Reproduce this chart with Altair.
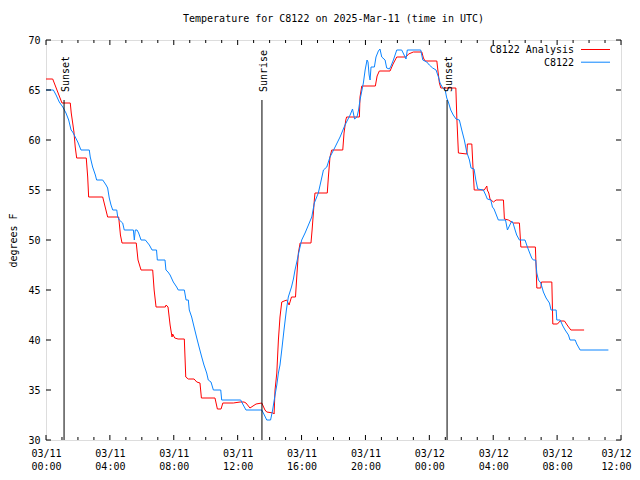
import altair as alt
import pandas as pd

TITLE = "Temperature for C8122 on 2025-Mar-11 (time in UTC)"
FONT = "DejaVu Sans Mono"

# hours since 03/11 00:00 UTC, temperature in degrees F
red_hours = [0.00, 0.42, 1.00, 1.52, 1.58, 1.67, 1.75, 1.83, 1.92, 2.52, 2.61, 2.67, 3.55, 3.86, 4.55,
             4.66, 4.76, 5.65, 5.76, 5.95, 6.68, 6.77, 6.89, 7.47, 7.52, 7.64, 7.77, 7.89, 7.93, 8.06,
             8.27, 8.66, 8.75, 8.91, 9.27, 9.44, 9.64, 9.73, 10.58, 10.73, 10.96, 11.07, 11.73, 12.15,
             12.40, 12.52, 12.67, 12.77, 13.15, 13.51, 13.71, 13.82, 14.23, 14.28, 14.34, 14.45, 14.55,
             14.65, 14.76, 15.07, 15.22, 15.37, 15.62, 15.70, 15.80, 15.91, 16.59, 16.66, 16.74, 16.80,
             16.84, 17.61, 17.68, 17.78, 17.89, 18.58, 18.66, 18.77, 18.82, 19.62, 19.66, 19.77, 20.62,
             20.73, 20.87, 21.54, 21.73, 21.96, 22.54, 22.70, 23.00, 23.53, 23.63, 23.73, 24.47, 24.54,
             24.63, 24.72, 25.66, 25.72, 25.82, 26.35, 26.38, 26.66, 26.72, 26.81, 27.44, 27.60, 27.63,
             27.72, 27.80, 28.01, 28.18, 28.64, 28.70, 28.95, 29.26, 29.64, 29.73, 30.64, 30.73, 30.98,
             31.02, 31.67, 31.73, 32.02, 32.19, 32.46, 32.67, 32.86, 33.69]
red_temps = [66.1, 66.1, 63.7, 63.7, 62.7, 61.7, 60.8, 59.3, 58.2, 58.2, 56.3, 54.3, 54.3, 52.3, 52.3,
             50.5, 49.7, 49.7, 48.0, 47.0, 47.0, 45.0, 43.3, 43.3, 43.5, 43.3, 41.5, 40.3, 40.6, 40.2,
             40.1, 40.1, 36.3, 36.1, 36.1, 35.8, 35.7, 34.2, 34.2, 33.1, 33.1, 33.7, 33.7, 33.8,
             33.8, 33.7, 33.4, 33.2, 33.6, 33.7, 33.0, 32.8, 32.7, 32.6, 35.0, 36.7, 40.0,
             42.3, 43.8, 44.0, 43.5, 44.3, 44.3, 46.3, 48.7, 49.7, 49.7, 51.0, 52.7, 54.0,
             54.7, 54.7, 56.3, 58.3, 59.0, 59.0, 60.7, 62.0, 62.3, 62.3, 64.3, 65.4, 65.4,
             66.4, 66.9, 66.9, 67.6, 68.3, 68.3, 68.6, 68.8, 68.8, 68.2, 67.9, 67.9, 66.9,
             65.7, 65.2, 65.2, 62.3, 58.7, 58.6, 59.6, 59.6, 57.7, 55.0, 55.0, 55.4, 55.0,
             54.7, 54.1, 53.8, 54.0, 54.0, 52.1, 52.0, 51.7, 51.7, 49.3, 49.3, 45.2, 45.2,
             45.8, 45.8, 41.6, 41.6, 41.9, 41.9, 41.4, 41.0, 41.0]

blue_hours = [0.00, 0.46, 0.63, 0.83, 1.05, 1.25, 1.42, 1.57, 1.67, 1.83, 1.99, 2.19, 2.71, 2.77, 2.92,
              3.09, 3.17, 3.55, 3.76, 3.86, 3.96, 4.07, 4.18, 4.43, 4.49, 4.59, 4.80, 4.90, 5.47, 5.53,
              5.59, 5.70, 5.80, 5.95, 6.22, 6.47, 6.64, 6.92, 6.97, 7.45, 7.51, 7.64, 7.77, 7.97, 8.18,
              8.28, 8.66, 8.77, 8.91, 8.97, 9.12, 9.27, 9.44, 9.60, 9.75, 9.89, 10.06, 10.16, 10.33,
              10.48, 10.94, 11.00, 12.19, 12.35, 12.52, 13.51, 13.67, 13.82, 14.06, 14.19, 14.34, 14.45,
              14.55, 14.65, 14.76, 14.90, 15.05, 15.17, 15.37, 15.49, 15.59, 15.73, 15.86, 16.01, 16.22,
              16.43, 16.64, 16.80, 16.95, 17.05, 17.26, 17.37, 17.58, 17.78, 18.10, 18.41, 18.72, 19.04,
              19.19, 19.32, 19.47, 19.57, 19.66, 19.87, 19.98, 20.10, 20.16, 20.23, 20.29, 20.35, 20.56,
              20.66, 20.81, 20.91, 21.02, 21.23, 21.33, 21.50, 21.60, 21.75, 21.96, 22.27, 22.42, 22.54,
              22.62, 23.46, 23.59, 23.84, 24.00, 24.21, 24.42, 24.57, 24.67, 24.84, 24.99, 25.09, 25.19,
              25.34, 25.50, 25.67, 25.88, 26.03, 26.19, 26.34, 26.51, 26.61, 26.80, 26.91, 27.03, 27.38,
              27.53, 27.63, 27.85, 27.95, 28.05, 28.32, 28.77, 28.89, 29.01, 29.16, 29.24, 29.37, 29.47,
              29.64, 29.99, 30.14, 30.26, 30.41, 30.51, 30.66, 30.73, 30.83, 30.98, 31.14, 31.31, 31.52,
              31.62, 31.94, 31.98, 32.19, 32.36, 32.50, 32.71, 32.81, 33.13, 33.23, 33.44, 35.21]
blue_temps = [65.0, 65.0, 64.5, 63.8, 63.3, 62.7, 62.0, 61.0, 60.8, 60.3, 59.8, 59.0, 59.0, 58.3, 57.3,
              56.5, 56.0, 56.0, 55.5, 55.2, 54.2, 53.5, 53.0, 53.0, 52.3, 52.0, 51.7, 51.0, 51.0, 50.0,
              51.0, 51.0, 50.7, 50.0, 50.0, 49.5, 49.0, 49.0, 48.0, 48.0, 47.0, 46.8, 46.5, 45.8, 45.3,
              45.0, 45.0, 44.0, 44.0, 43.0, 42.3, 41.3, 40.2, 39.2, 38.3, 37.5, 36.7, 36.0, 35.8,
              35.0, 35.0, 34.0, 34.0, 33.5, 33.0, 33.0, 32.5, 32.0, 32.0, 33.0, 34.5, 35.5,
              36.7, 37.5, 39.0, 41.0, 43.0, 44.3, 45.3, 46.1, 47.0, 48.0, 49.0, 50.0, 50.7,
              51.5, 52.3, 53.7, 54.3, 54.7, 56.2, 57.0, 57.3, 58.3, 59.3, 60.3, 61.5, 62.5,
              63.1, 62.1, 62.3, 63.0, 64.0, 65.7, 67.0, 68.0, 67.8, 66.5, 66.0, 67.3, 67.3,
              68.3, 68.9, 69.1, 68.3, 68.0, 67.2, 67.1, 67.4, 68.0, 69.0, 69.0, 68.5, 68.1,
              69.0, 69.0, 68.0, 67.8, 67.5, 67.2, 67.0, 66.3, 65.7, 65.2, 65.0, 64.2, 63.8,
              63.0, 62.5, 62.1, 62.0, 61.0, 60.0, 58.8, 58.0, 57.2, 57.1, 56.0, 55.1, 55.0,
              54.5, 54.1, 54.0, 53.3, 53.1, 52.0, 52.0, 51.0, 51.4, 51.9, 51.7, 51.0, 50.5,
              50.0, 50.0, 49.3, 48.8, 48.2, 48.0, 48.0, 46.7, 46.0, 45.7, 44.8, 44.2, 43.7,
              43.0, 43.0, 42.0, 42.0, 41.4, 41.0, 40.5, 40.0, 40.0, 39.6, 39.0, 39.0]

series_names = ["C8122 Analysis", "C8122"]
series_colors = ["#ff0000", "#0a84ff"]

event_names = ["Sunset", "Sunrise", "Sunset"]
event_hours = [1.13, 13.52, 25.11]
event_top = 64
y_min, y_max = 30, 70

major_hours = list(range(0, 37, 4))
minor_hours = [h for h in range(37) if h % 4]
y_ticks = list(range(30, 71, 5))

W, H = 575, 400

df = pd.concat([
    pd.DataFrame({"hour": red_hours, "temp": red_temps, "series": series_names[0]}),
    pd.DataFrame({"hour": blue_hours, "temp": blue_temps, "series": series_names[1]}),
])

xscale = alt.Scale(domain=[0, 36], nice=False, zero=False)
yscale = alt.Scale(domain=[y_min, y_max], nice=False, zero=False)

label_expr = ("[datum.value < 24 ? '03/11' : '03/12', "
              "(datum.value % 24 < 10 ? '0' : '') + (datum.value % 24) + ':00']")

xaxis = alt.Axis(values=major_hours, labelExpr=label_expr, ticks=False, tickSize=0, domain=False,
                 grid=False, labelFont=FONT, labelFontSize=10, labelColor="black", labelPadding=8,
                 labelBaseline="top", labelLineHeight=13, labelFlush=False, labelOverlap=False,
                 labelOffset={"condition": {"test": "datum.value >= 36", "value": -5}, "value": 0},
                 title=None)
yaxis = alt.Axis(values=y_ticks, ticks=False, tickSize=0, domain=False, grid=False, labelFont=FONT,
                 labelFontSize=10, labelColor="black", labelPadding=6, title="degrees F",
                 titleFont=FONT, titleFontSize=10, titleFontWeight="normal", titleColor="black",
                 titleX=-28, titleY=200)

lines = alt.Chart(df).mark_line(strokeWidth=1, interpolate="linear").encode(
    x=alt.X("hour:Q", scale=xscale, axis=xaxis),
    y=alt.Y("temp:Q", scale=yscale, axis=yaxis),
    color=alt.Color("series:N", scale=alt.Scale(domain=series_names, range=series_colors), legend=None),
    detail="series:N",
)

ev = pd.DataFrame({"event": event_names, "hour": event_hours, "top": [event_top] * 3,
                   "bottom": [y_min] * 3})
ev_rules = alt.Chart(ev).mark_rule(color="black", strokeWidth=1).encode(
    x="hour:Q", y="top:Q", y2="bottom:Q")
ev_text = alt.Chart(ev).mark_text(angle=270, align="left", baseline="middle", dx=8, dy=2,
                                  font=FONT, fontSize=10, color="black").encode(
    x="hour:Q", y="top:Q", text="event:N")

maj = pd.DataFrame({"hour": major_hours})
mnr = pd.DataFrame({"hour": minor_hours})
yt = pd.DataFrame({"temp": y_ticks})

def xticks(d, size):
    b = alt.Chart(d).mark_rule(color="black", strokeWidth=1).encode(
        x="hour:Q", y=alt.value(H), y2=alt.value(H - size))
    t = alt.Chart(d).mark_rule(color="black", strokeWidth=1).encode(
        x="hour:Q", y=alt.value(0), y2=alt.value(size))
    return b + t

ytl = alt.Chart(yt).mark_rule(color="black", strokeWidth=1).encode(
    y="temp:Q", x=alt.value(0), x2=alt.value(5))
ytr = alt.Chart(yt).mark_rule(color="black", strokeWidth=1).encode(
    y="temp:Q", x=alt.value(W), x2=alt.value(W - 5))

leg_layers = []
for i, (name, col) in enumerate(zip(series_names, series_colors)):
    ly = 10 + i * 12.7
    d = pd.DataFrame({"series": [name]})
    leg_layers.append(alt.Chart(d).mark_text(align="right", baseline="middle", font=FONT,
                                             fontSize=10, color="black").encode(
        text="series:N", x=alt.value(528), y=alt.value(ly)))
    leg_layers.append(alt.Chart(d).mark_rule(color=col, strokeWidth=1).encode(
        x=alt.value(535), x2=alt.value(564), y=alt.value(ly - 0.5)))

chart = alt.layer(
    lines, ev_rules, ev_text, xticks(maj, 5), xticks(mnr, 3), ytl, ytr, *leg_layers
).properties(
    width=W, height=H,
    title=alt.TitleParams(TITLE, font=FONT, fontSize=10, fontWeight="normal", color="black",
                          offset=11, anchor="middle"),
    padding={"left": 38, "top": 32, "right": 11, "bottom": 30},
    autosize=alt.AutoSizeParams(type="none"),
).configure_view(stroke="black", strokeWidth=1).configure(background="white")

chart.save("out.html", embed_options={"renderer": "svg", "actions": False})
